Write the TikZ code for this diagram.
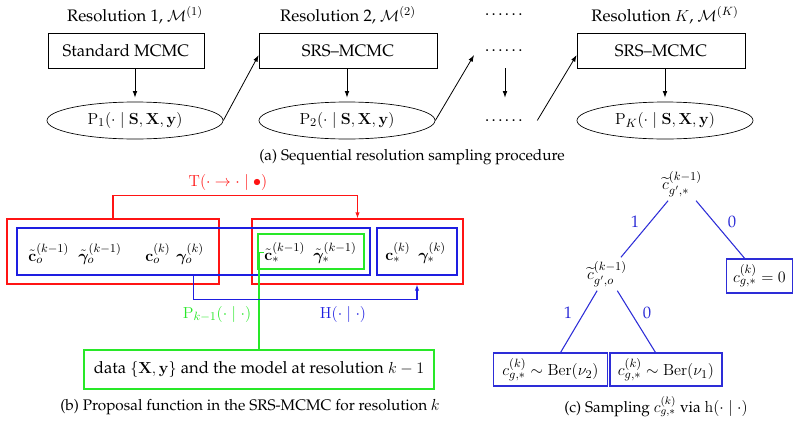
\documentclass[tikz,border=0pt]{standalone}
\usepackage[T1]{fontenc}
\usepackage{palatino}
\usepackage{amsmath,amssymb,bm}
\usetikzlibrary{arrows.meta,shapes.geometric}
\definecolor{myred}{RGB}{255,20,20}
\definecolor{mygreen}{RGB}{40,232,40}
\definecolor{myblue}{RGB}{30,30,225}
\definecolor{treeblue}{RGB}{45,45,215}
\begin{document}
\begin{tikzpicture}[x=0.75pt,y=-0.75pt,font=\fontsize{12.5}{15}\selectfont,
  txt/.style={inner sep=0pt},
  captxt/.style={inner sep=0pt,font=\fontsize{11.5}{14}\selectfont},
  blk/.style={draw,line width=0.5pt,minimum height=26.25pt,inner sep=0pt},
  ell/.style={draw,ellipse,line width=0.5pt,minimum width=132pt,minimum height=27.75pt,inner sep=0pt},
  arr/.style={-{Latex[length=5pt,width=3.5pt]},line width=0.6pt},
  carr/.style={-{Latex[length=4.5pt,width=3.2pt]},line width=0.8pt},
  cbox/.style={draw,line width=0.8pt,inner sep=0pt},
  tbox/.style={draw=treeblue,line width=0.8pt,inner sep=0pt,minimum height=24.75pt},
  tline/.style={treeblue,line width=0.8pt},
  tlab/.style={text=treeblue,inner sep=0pt}]
\useasboundingbox (0,0) rectangle (800,422);
% ---------- (a) ----------
\node[txt] (t1) at (135,15) {Resolution 1, $\mathcal{M}^{(1)}$};
\node[txt] (t2) at (348,15) {Resolution 2, $\mathcal{M}^{(2)}$};
\node[txt] (d1) at (505,15) {\ldots\ldots};
\node[txt] (tK) at (665,15) {Resolution $K$, $\mathcal{M}^{(K)}$};
\node[blk,minimum width=117pt] (b1) at (126,50.5) {Standard MCMC};
\node[blk,minimum width=133.5pt] (b2) at (348,50.5) {SRS--MCMC};
\node[txt,minimum height=26.25pt] (d2) at (505,50.5) {\ldots\ldots};
\node[blk,minimum width=126pt] (bK) at (661,50.5) {SRS--MCMC};
\node[ell] (e1) at (135,120.5) {$\mathrm{P}_1(\cdot\mid\mathbf{S},\mathbf{X},\mathbf{y})$};
\node[ell] (e2) at (347,120.5) {$\mathrm{P}_2(\cdot\mid\mathbf{S},\mathbf{X},\mathbf{y})$};
\node[txt,minimum height=27.75pt] (d3) at (505,120.5) {\ldots\ldots};
\node[ell] (eK) at (665,120.5) {$\mathrm{P}_K(\cdot\mid\mathbf{S},\mathbf{X},\mathbf{y})$};
\draw[arr,shorten >=3pt] (b1.south -| e1.north) -- (e1.north);
\draw[arr,shorten >=3pt] (b2.south -| e2.north) -- (e2.north);
\draw[arr,shorten >=3pt] (d2.south) -- (d3.north);
\draw[arr,shorten >=3pt] (bK.south -| eK.north) -- (eK.north);
\draw[arr] (e1.east) -- ([yshift=-3.4pt]b2.west);
\draw[arr] (e2.east) -- ([xshift=-8pt,yshift=-3.4pt]d2.west);
\draw[arr] ([xshift=9pt]d3.east) -- ([yshift=-3.4pt]bK.west);
\node[captxt] (capa) at (412,157) {(a) Sequential resolution sampling procedure};
% ---------- (b) ----------
\node[cbox,draw=myred,minimum width=159pt,minimum height=48.75pt] (RL) at (113,251.5) {};
\node[cbox,draw=myred,minimum width=158.25pt,minimum height=48.75pt] (RR) at (357.5,251.5) {};
\node[cbox,draw=myblue,minimum width=264.75pt,minimum height=35.25pt] (BL) at (193.5,251.5) {};
\node[cbox,draw=mygreen,minimum width=79.5pt,minimum height=26.25pt] (GB) at (311,251.5) {};
\node[cbox,draw=myblue,minimum width=60pt,minimum height=35.25pt] (BR) at (417,251.5) {};
\node[txt,anchor=base west] (co1) at (28,261) {$\tilde{\mathbf{c}}_o^{(k-1)}$};
\node[txt,anchor=base west] (go1) at (78,261) {$\tilde{\bm{\gamma}}_o^{(k-1)}$};
\node[txt,anchor=base west] (co2) at (145,261) {$\mathbf{c}_o^{(k)}$};
\node[txt,anchor=base west] (go2) at (176,261) {$\bm{\gamma}_o^{(k)}$};
\node[txt,anchor=base west] (cs1) at (264,260) {$\tilde{\mathbf{c}}_*^{(k-1)}$};
\node[txt,anchor=base west] (gs1) at (313,260) {$\tilde{\bm{\gamma}}_*^{(k-1)}$};
\node[txt,anchor=base west] (cs2) at (385,260) {$\mathbf{c}_*^{(k)}$};
\node[txt,anchor=base west] (gs2) at (418,260) {$\bm{\gamma}_*^{(k)}$};
\node[txt,text=myred] (Tl) at (228,182) {$\mathrm{T}(\cdot\rightarrow\cdot\mid\bullet)$};
\draw[carr,myred] (RL.north) -- ++(0,-23) -| (RR.north);
\node[cbox,draw=mygreen,minimum width=262.5pt,minimum height=29.25pt] (data) at (259,369.5)
  {data $\{\mathbf{X},\mathbf{y}\}$ and the model at resolution $k-1$};
\draw[mygreen,line width=0.8pt] (data.north) |- (cs1.west);
\draw[carr,myblue] (BL.south) -- ++(0,24) -| (BR.south |- RR.south);
\node[txt,text=mygreen] (Pl) at (217,314) {$\mathrm{P}_{k-1}(\cdot\mid\cdot)$};
\node[txt,text=myblue] (Hl) at (343,314) {$\mathrm{H}(\cdot\mid\cdot)$};
\node[captxt] (capb) at (250,407) {(b) Proposal function in the SRS-MCMC for resolution $k$};
% ---------- (c) ----------
\node[inner sep=3pt] (root) at (682,184) {$\widetilde{c}^{(k-1)}_{g',*}$};
\node[inner sep=3pt] (mid) at (607,274) {$\widetilde{c}^{(k-1)}_{g',o}$};
\node[tbox,minimum width=50pt,minimum height=25.5pt] (zb) at (759.5,276) {$c_{g,*}^{(k)}=0$};
\node[tbox,minimum width=85pt] (nb2) at (550.5,369.5) {$c_{g,*}^{(k)}\sim\mathrm{Ber}(\nu_2)$};
\node[tbox,minimum width=84pt] (nb1) at (666,369.5) {$c_{g,*}^{(k)}\sim\mathrm{Ber}(\nu_1)$};
\draw[tline] (root) -- (mid);
\draw[tline] (root) -- (zb);
\draw[tline] (mid) -- (nb2);
\draw[tline] (mid) -- (nb1);
\node[tlab] (l1) at (635,222) {1};
\node[tlab] (l0) at (732,222) {0};
\node[tlab] (l1b) at (568,313) {1};
\node[tlab] (l0b) at (647,313) {0};
\node[captxt] (capc) at (656,407) {(c) Sampling $c^{(k)}_{g,*}$ via $\mathrm{h}(\cdot\mid\cdot)$};
\end{tikzpicture}
\end{document}
